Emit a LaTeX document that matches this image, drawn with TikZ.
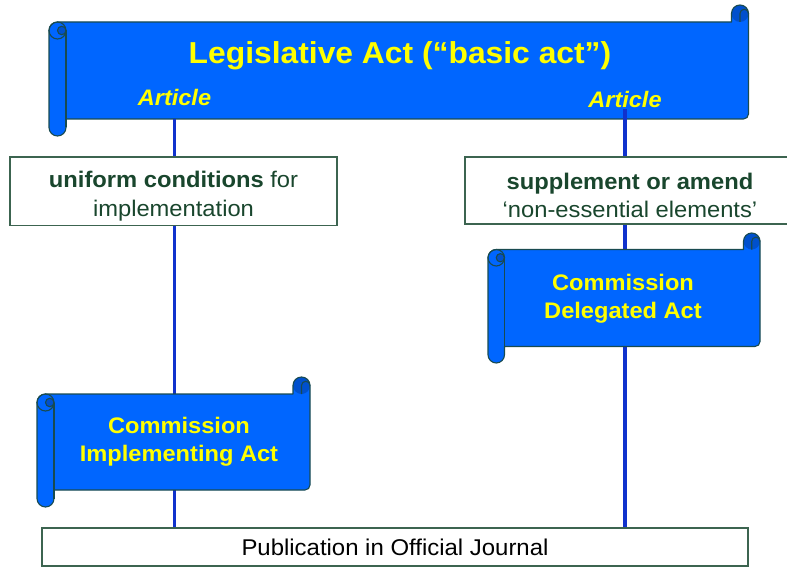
\documentclass[tikz,border=0pt]{standalone}
\usepackage{fontspec}
\setmainfont{Liberation Sans}[FakeStretch=1.05]
\pgfdeclarelayer{bg}
\pgfsetlayers{bg,main}
\definecolor{scrollblue}{RGB}{0,102,255}
\definecolor{curlblue}{RGB}{0,80,205}
\definecolor{scrolledge}{RGB}{25,75,80}
\definecolor{connblue}{RGB}{16,50,205}
\definecolor{boxedge}{RGB}{60,100,80}
\definecolor{boxtext}{RGB}{25,70,45}
\definecolor{yel}{RGB}{255,255,0}
\newcommand\drawscroll[5]{%
  \pgfmathsetmacro\scL{#1}\pgfmathsetmacro\scR{#2}%
  \pgfmathsetmacro\scT{#3}\pgfmathsetmacro\scB{#4}%
  \pgfmathsetmacro\scC{#5}\pgfmathsetmacro\scH{#5/2}\pgfmathsetmacro\scQ{#5/4}%
  \fill[scrollblue] (\scL,\scB-\scH) -- (\scL,\scT+\scC+\scH) arc (180:270:\scH)
    -- (\scR-\scC,\scT+\scC) -- (\scR-\scC,\scT+\scH) arc (180:360:\scH)
    -- (\scR,\scB-\scC-5) arc (0:90:5) -- (\scL+\scC,\scB-\scC)
    -- (\scL+\scC,\scB-\scH) arc (0:180:\scH) -- cycle;
  \fill[curlblue] (\scR-\scH,\scT+\scH) circle (\scH);
  \fill[curlblue] (\scL+\scH+\scQ,\scT+\scC+\scH) circle (\scQ);
  \draw[scrolledge] (\scL,\scB-\scH) -- (\scL,\scT+\scC+\scH) arc (180:270:\scH)
    -- (\scR-\scC,\scT+\scC) -- (\scR-\scC,\scT+\scH) arc (180:360:\scH)
    -- (\scR,\scB-\scC-5) arc (0:90:5) -- (\scL+\scC,\scB-\scC)
    -- (\scL+\scC,\scB-\scH) arc (0:180:\scH) -- cycle;
  \draw[scrolledge] (\scR-\scH,\scT+\scC) -- (\scR-\scH,\scT+\scH) arc (180:360:\scQ);
  \draw[scrolledge] (\scL+\scH,\scT+\scC+\scH) circle (\scH);
  \draw[scrolledge] (\scL+\scH+\scQ,\scT+\scC+\scH) circle (\scQ);
  \draw[scrolledge] (\scL+\scC,\scT+\scC+\scH) -- (\scL+\scC,\scB-\scH);
}
\tikzset{
  scrolledge/.style={draw=scrolledge, line width=1.1pt, line join=round},
  titletext/.style={text=yel, font=\fontsize{30.3}{36}\selectfont\bfseries, inner sep=0pt},
  arttext/.style={text=yel, font=\fontsize{22.4}{27}\selectfont\bfseries\itshape, inner sep=1.5pt},
  acttext/.style={text=yel, align=center, font=\fontsize{22.5}{28}\selectfont\bfseries, inner sep=0pt},
  whitebox/.style={draw=boxedge, fill=white, line width=1.2pt, inner sep=0pt},
  boxlabel/.style={text=boxtext, align=center, font=\fontsize{22.6}{28.5}\selectfont, inner sep=0pt},
  publabel/.style={draw=boxedge, fill=white, line width=1.2pt, inner sep=0pt, text=black,
    font=\fontsize{22.8}{27}\selectfont},
  conn/.style={draw=connblue, line width=3.5pt},
}
\begin{document}
\begin{tikzpicture}[x=1pt,y=1pt,yscale=-1]
\useasboundingbox (0,0) rectangle (787,567);
\begin{pgfonlayer}{bg}
  \drawscroll{49}{748.5}{5}{136}{17}
\end{pgfonlayer}
\node[inner sep=0pt, minimum width=682.5pt, minimum height=97pt] (leg) at (407.25,70.5) {};
\node[titletext, anchor=base] (ttl) at (400,63.3) {Legislative Act (“basic act”)};
\node[arttext, anchor=base] (artL) at (174.5,106) {Article};
\node[arttext, anchor=base] (artR) at (625,107.3) {Article};
% boxes
\node[whitebox, minimum width=327pt, minimum height=68.5pt] (ucbox) at (173.5,191.3) {};
\node[boxlabel] (uctext) at ([yshift=5pt]ucbox.center) {\textbf{uniform conditions} for\\implementation};
\node[whitebox, minimum width=330pt, minimum height=67pt] (sabox) at (630,190.5) {};
\node[boxlabel] (satext) at ([yshift=5pt]sabox.center) {\textbf{supplement or amend}\\‘non-essential elements’};
% scrolls
\drawscroll{488}{760}{233}{363}{16.5}
\node[acttext] (da) at (623,299) {Commission\\Delegated Act};
\drawscroll{37}{310}{377}{507}{17}
\node[acttext] (ia) at (179,441.5) {Commission\\Implementing Act};
% publication
\node[publabel, minimum width=706pt, minimum height=38pt] (pub) at (395,547) {Publication in Official Journal};
\begin{pgfonlayer}{bg}
  \draw[conn] (artL.south |- leg.south) -- (artL.south |- pub.north);
  \draw[conn] (artR.south) -- (artR.south |- pub.north);
\end{pgfonlayer}
\end{tikzpicture}
\end{document}
